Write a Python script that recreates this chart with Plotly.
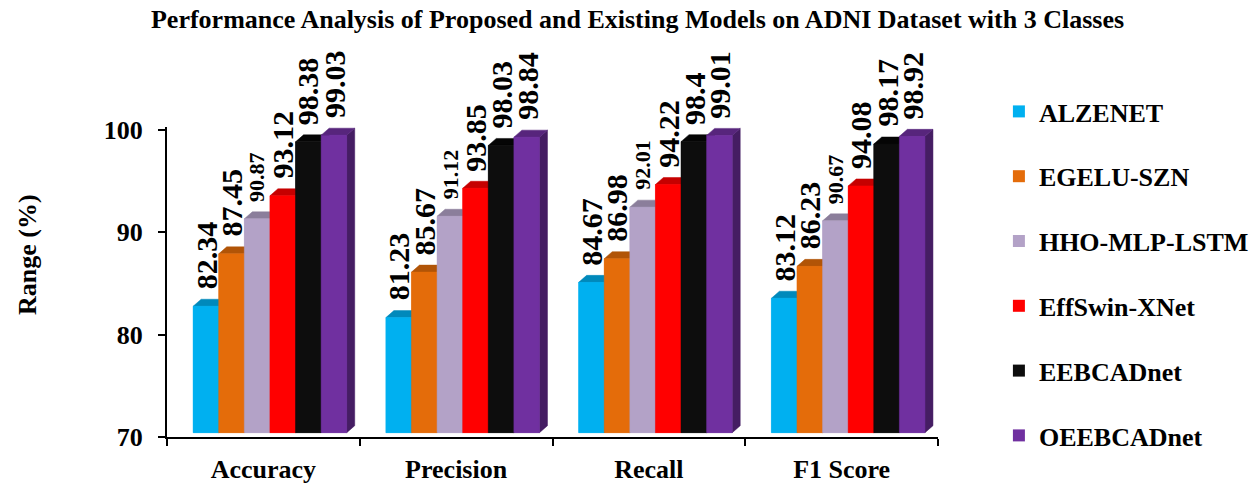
import plotly.graph_objects as go

# ---------------- data ----------------
categories = ["Accuracy", "Precision", "Recall", "F1 Score"]
models = ["ALZENET", "EGELU-SZN", "HHO-MLP-LSTM", "EffSwin-XNet", "EEBCADnet", "OEEBCADnet"]
alzenet = [82.34, 81.23, 84.67, 83.12]
egelu_szn = [87.45, 85.67, 86.98, 86.23]
hho_mlp_lstm = [90.87, 91.12, 92.01, 90.67]
effswin_xnet = [93.12, 93.85, 94.22, 94.08]
eebcadnet = [98.38, 98.03, 98.4, 98.17]
oeebcadnet = [99.03, 98.84, 99.01, 98.92]
y_ticks = [70, 80, 90, 100]

series = [alzenet, egelu_szn, hho_mlp_lstm, effswin_xnet, eebcadnet, oeebcadnet]

# ---------------- style ----------------
front_colors = ["#00B0F0", "#E46C0A", "#B3A2C7", "#FF0000", "#0D0D0D", "#7030A0"]
label_sizes = [30, 30, 22, 30, 30, 30]
FONT = "Liberation Serif"

def shade(hex_color, f):
    h = hex_color.lstrip("#")
    r, g, b = (int(h[i:i + 2], 16) for i in (0, 2, 4))
    return "#%02X%02X%02X" % (int(r * f), int(g * f), int(b * f))

W, H = 1255, 485
L, R, T, B = 167, 317, 127, 48
Y_MIN, Y_MAX = 70, 100.25
px_x = (W - L - R) / len(categories)
px_y = (H - T - B) / (Y_MAX - Y_MIN)

BW = 0.1328                  # bar width (category units)
GROUP_SHIFT = 0.034          # 3-D projection shift of the group
LIFT = 0.42                  # 3-D floor lift (y units)
DX = 8 / px_x                # depth in x (category units)
DY = 7 / px_y                # depth in y (value units)

fig = go.Figure()

n = len(series)
centers_all = []
for s, vals in enumerate(series):
    centers = [i + GROUP_SHIFT + (s - (n - 1) / 2) * BW for i in range(len(categories))]
    centers_all.append(centers)
    fig.add_trace(go.Bar(
        x=centers, y=[v - Y_MIN for v in vals], base=Y_MIN + LIFT, width=BW,
        name=models[s], legendgroup=models[s],
        marker=dict(color=front_colors[s], line=dict(width=0)),
        hoverinfo="skip",
    ))

# 3-D faces drawn in painter's order
for s, vals in enumerate(series):
    fx, fy, tx, ty, sx, sy = [], [], [], [], [], []
    for xc, v in zip(centers_all[s], vals):
        xl, xr = xc - BW / 2, xc + BW / 2
        b, t = Y_MIN + LIFT, v + LIFT
        sx += [xr, xr + DX, xr + DX, xr, xr, None]
        sy += [b, b + DY, t + DY, t, b, None]
        tx += [xl, xl + DX, xr + DX, xr, xl, None]
        ty += [t, t + DY, t + DY, t, t, None]
        fx += [xl, xr, xr, xl, xl, None]
        fy += [b, b, t, t, b, None]
    for xs, ys, col in ((sx, sy, shade(front_colors[s], 0.62) if s != 4 else "#000000"),
                        (tx, ty, shade(front_colors[s], 0.78) if s != 4 else "#050505"),
                        (fx, fy, front_colors[s])):
        fig.add_trace(go.Scatter(
            x=xs, y=ys, mode="lines", fill="toself", fillcolor=col,
            line=dict(color=col, width=0.5), showlegend=False,
            hoverinfo="skip", legendgroup=models[s],
        ))

annotations = []
for s, vals in enumerate(series):
    for xc, v in zip(centers_all[s], vals):
        annotations.append(dict(
            x=xc, y=v + LIFT, xref="x", yref="y", text=f"{v:g}",
            textangle=-90, xanchor="center", yanchor="bottom", yshift=15,
            showarrow=False, font=dict(size=label_sizes[s], family=FONT, color="black", weight="bold"),
        ))

annotations.append(dict(
    x=(27 - L) / (W - L - R), y=(H - B - 255) / (H - T - B), xref="paper", yref="paper",
    text="Range (%)", textangle=-90, showarrow=False, xanchor="center", yanchor="middle",
    font=dict(size=26, family=FONT, color="black", weight="bold"),
))

fig.update_layout(
    width=W, height=H,
    margin=dict(l=L, r=R, t=T, b=B, autoexpand=False),
    paper_bgcolor="white", plot_bgcolor="white",
    font=dict(family=FONT, color="black", size=26, weight="bold"),
    title=dict(
        text="Performance Analysis of Proposed and Existing Models on ADNI Dataset with 3 Classes",
        x=0.508, xref="container", xanchor="center",
        y=1 - 19 / H, yref="container", yanchor="middle",
        font=dict(size=26, family=FONT, color="black", weight="bold"),
    ),
    barmode="overlay",
    showlegend=True,
    legend=dict(
        x=1.079, y=1 - 88 / H, xref="paper", yref="container",
        xanchor="left", yanchor="top",
        font=dict(size=26, family=FONT, color="black", weight="bold"),
        tracegroupgap=28, itemwidth=30, bgcolor="rgba(0,0,0,0)",
        traceorder="grouped", maxheight=480,
    ),
    annotations=annotations,
    xaxis=dict(
        range=[-0.5, len(categories) - 0.5], automargin=False,
        tickmode="array", tickvals=list(range(len(categories))), ticktext=categories,
        ticks="", showgrid=False, zeroline=False,
        showline=True, linecolor="black", linewidth=2,
        ticklabelstandoff=8,
        tickfont=dict(size=26, family=FONT, color="black", weight="bold"),
        minor=dict(tickmode="array", tickvals=[i - 0.5 for i in range(len(categories) + 1)],
                   ticks="outside", ticklen=7, tickwidth=2, tickcolor="black", showgrid=False),
    ),
    yaxis=dict(
        range=[Y_MIN, Y_MAX], tickmode="array", tickvals=y_ticks, automargin=False,
        ticks="outside", ticklen=7, tickwidth=2, tickcolor="black",
        showgrid=False, zeroline=False,
        showline=True, linecolor="black", linewidth=2,
        ticklabelstandoff=10,
        tickfont=dict(size=26, family=FONT, color="black", weight="bold"),
    ),
)

fig.write_html("out.html")
